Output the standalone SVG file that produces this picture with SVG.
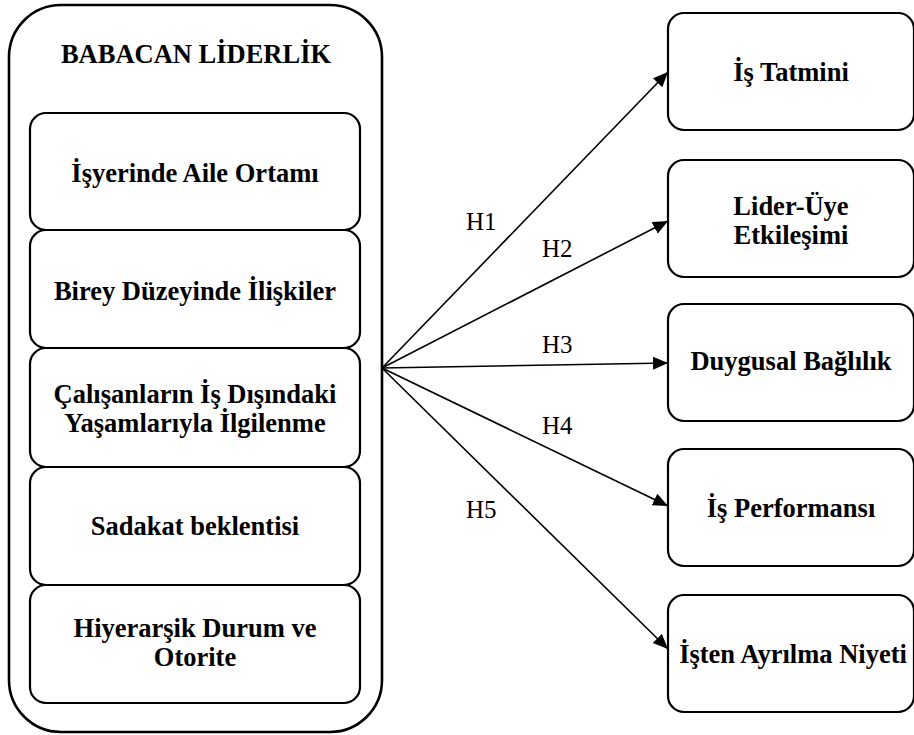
<svg xmlns="http://www.w3.org/2000/svg" width="914" height="735" viewBox="0 0 914 735" font-family="Liberation Serif, serif">
  <style>
    .outer { fill: #fff; stroke: #000; stroke-width: 2.6; }
    .box { fill: #fff; stroke: #000; stroke-width: 2.2; }
    .lbl { font-weight: bold; font-size: 26.5px; fill: #000; text-anchor: middle; }
    .hyp { font-size: 25px; fill: #000; }
    .conn { stroke: #000; stroke-width: 1.6; fill: none; marker-end: url(#arrow); }
  </style>
  <defs>
    <marker id="arrow" markerUnits="userSpaceOnUse" markerWidth="16" markerHeight="14" refX="15" refY="6.5" orient="auto">
      <path d="M0,0 L15,6.5 L0,13 z" fill="#000"/>
    </marker>
  </defs>
  <rect width="914" height="735" fill="#fff"/>

  <!-- left construct with its five dimensions -->
  <g id="babacan-liderlik">
    <rect class="outer" x="9" y="5" width="373" height="727" rx="52" ry="52"/>
    <text class="lbl" x="196" y="63">BABACAN LİDERLİK</text>
  </g>
  <g id="aile-ortami">
    <rect class="box" x="30" y="113" width="330" height="117" rx="16" ry="16"/>
    <text class="lbl" x="195" y="182">İşyerinde Aile Ortamı</text>
  </g>
  <g id="birey-duzeyi">
    <rect class="box" x="30" y="230" width="330" height="118" rx="16" ry="16"/>
    <text class="lbl" x="195" y="300">Birey Düzeyinde İlişkiler</text>
  </g>
  <g id="is-disi-yasam">
    <rect class="box" x="30" y="348" width="330" height="119" rx="16" ry="16"/>
    <text class="lbl" x="195" y="403">Çalışanların İş Dışındaki</text>
    <text class="lbl" x="195" y="432">Yaşamlarıyla İlgilenme</text>
  </g>
  <g id="sadakat">
    <rect class="box" x="30" y="467" width="330" height="118" rx="16" ry="16"/>
    <text class="lbl" x="195" y="535">Sadakat beklentisi</text>
  </g>
  <g id="hiyerarsi">
    <rect class="box" x="30" y="585" width="330" height="118" rx="16" ry="16"/>
    <text class="lbl" x="195" y="637">Hiyerarşik Durum ve</text>
    <text class="lbl" x="195" y="666">Otorite</text>
  </g>

  <!-- outcome variables -->
  <g id="is-tatmini">
    <rect class="box" x="668" y="13" width="246" height="117" rx="16" ry="16"/>
    <text class="lbl" x="791" y="81">İş Tatmini</text>
  </g>
  <g id="lider-uye">
    <rect class="box" x="668" y="160" width="246" height="117" rx="16" ry="16"/>
    <text class="lbl" x="791" y="215">Lider-Üye</text>
    <text class="lbl" x="791" y="244">Etkileşimi</text>
  </g>
  <g id="duygusal-baglilik">
    <rect class="box" x="668" y="304" width="246" height="117" rx="16" ry="16"/>
    <text class="lbl" x="791" y="370">Duygusal Bağlılık</text>
  </g>
  <g id="is-performansi">
    <rect class="box" x="668" y="449" width="246" height="117" rx="16" ry="16"/>
    <text class="lbl" x="791" y="517">İş Performansı</text>
  </g>
  <g id="isten-ayrilma">
    <rect class="box" x="668" y="595" width="246" height="117" rx="16" ry="16"/>
    <text class="lbl" x="793" y="663">İşten Ayrılma Niyeti</text>
  </g>

  <!-- hypothesis paths -->
  <g id="connectors">
    <line class="conn" x1="382" y1="368" x2="668" y2="72"/>
    <line class="conn" x1="382" y1="368" x2="668" y2="221"/>
    <line class="conn" x1="382" y1="368" x2="668" y2="363"/>
    <line class="conn" x1="382" y1="368" x2="668" y2="506"/>
    <line class="conn" x1="382" y1="368" x2="668" y2="649"/>
    <text class="hyp" x="466" y="230">H1</text>
    <text class="hyp" x="542" y="257">H2</text>
    <text class="hyp" x="542" y="353">H3</text>
    <text class="hyp" x="542" y="434">H4</text>
    <text class="hyp" x="466" y="518">H5</text>
  </g>
</svg>
